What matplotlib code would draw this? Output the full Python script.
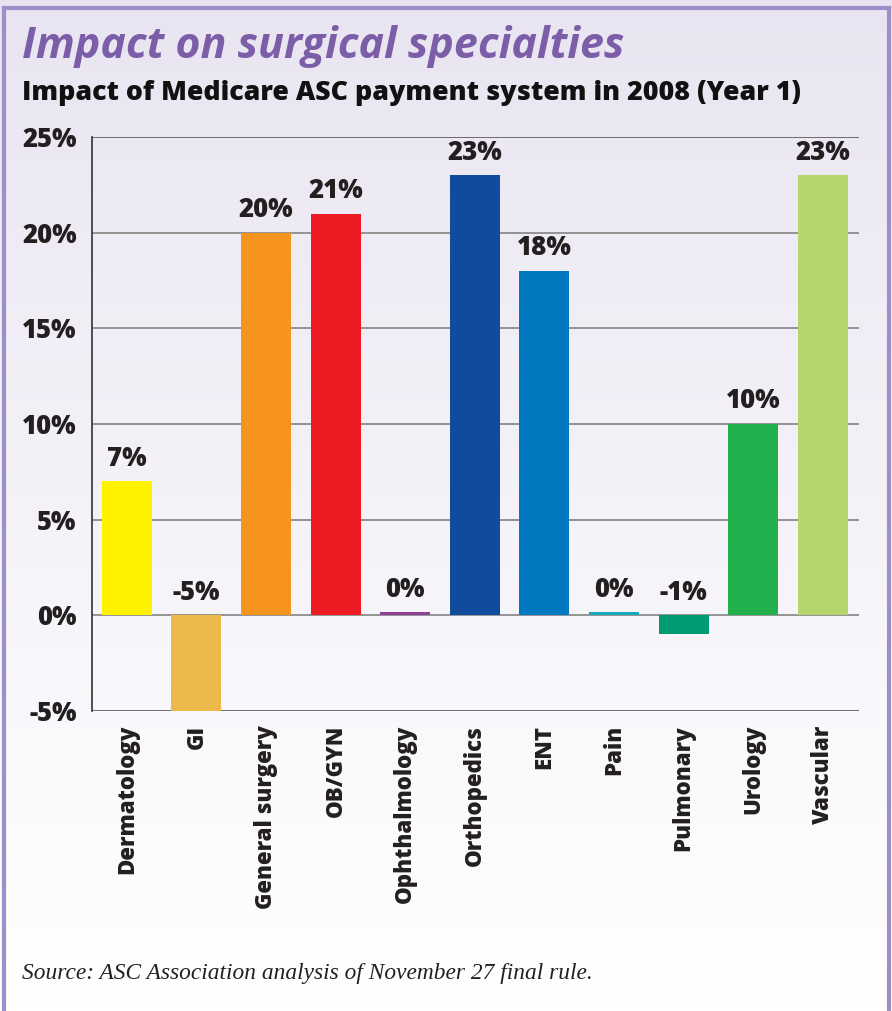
import numpy as np
from matplotlib import pyplot as plt

specialties = ["Dermatology", "GI", "General surgery", "OB/GYN", "Ophthalmology",
               "Orthopedics", "ENT", "Pain", "Pulmonary", "Urology", "Vascular"]
# wartosci (0% rysowane jako cienki pasek)
impact = [7, -5, 20, 21, 0.15, 23, 18, 0.15, -1, 10, 23]
colors = ["#FFF200", "#EDB94A", "#F7941D", "#ED1C24", "#8E3F96", "#0F4C9E",
          "#0079C1", "#1AA6B7", "#009B72", "#22B14C", "#B5D56F"]
yticks = [-5, 0, 5, 10, 15, 20, 25]

FONT = "Open Sans"
WGT = 800
W, H = 892, 1011
fig = plt.figure(figsize=(W / 100, H / 100), dpi=100)

# tlo z gradientem
bg = fig.add_axes([0, 0, 1, 1], zorder=-5)
grad = np.linspace(0, 1, 256).reshape(-1, 1)
top = np.array([0.910, 0.894, 0.945])
bottom = np.array([1.0, 1.0, 1.0])
img = top + (bottom - top) * grad[..., None] ** 0.9
img = img.reshape(256, 1, 3)
bg.imshow(img, aspect="auto", extent=[0, 1, 0, 1], origin="upper")
bg.set_xlim(0, 1)
bg.set_ylim(0, 1)
bg.axis("off")
# ramka
bc = "#9E8FC9"
bg.plot([4 / W, 4 / W], [0, 1 - 8 / H], color=bc, lw=3)
bg.plot([4 / W, 889 / W], [1 - 8 / H, 1 - 8 / H], color=bc, lw=3)
bg.plot([889 / W, 889 / W], [0, 1 - 8 / H], color=bc, lw=3)

ax = fig.add_axes([92 / W, 300 / H, 767 / W, 574 / H])
ax.patch.set_alpha(0)
x = np.arange(len(specialties))
ax.bar(x, impact, width=0.72, color=colors, zorder=3)
ax.set_xlim(-0.5, 10.52)
ax.set_ylim(-5, 25)

for yv in yticks:
    if yv in (-5, 25):
        col, lw = "#555555", 1.2
    else:
        col, lw = "#8C8C8C", 1.3
    ax.axhline(yv, color=col, lw=lw, zorder=2)

for xi, v in zip(x, impact):
    ax.text(xi, max(v, 0) + 0.5, f"{v:.0f}%", ha="center", va="bottom",
            fontsize=18.5, fontweight=WGT, color="#231F20", family=FONT)

ax.set_yticks(yticks)
ax.set_yticklabels([f"{t}%" for t in yticks], fontsize=18.5, fontweight=WGT,
                   color="#231F20", family=FONT)
ax.set_xticks(x)
ax.set_xticklabels(specialties, rotation=90, fontsize=16, fontweight=WGT,
                   color="#231F20", family=FONT, va="top")
ax.tick_params(axis="both", length=0)
ax.tick_params(axis="y", pad=11)
ax.tick_params(axis="x", pad=10)
for s in ["top", "right", "bottom"]:
    ax.spines[s].set_visible(False)
ax.spines["left"].set_color("#333333")
ax.spines["left"].set_linewidth(1.2)

fig.text(22 / W, 1 - 46 / H, "Impact on surgical specialties", fontsize=31,
         fontweight="bold", style="italic", color="#7B5EA7", family=FONT,
         va="center", ha="left")
fig.text(22 / W, 1 - 93 / H, "Impact of Medicare ASC payment system in 2008 (Year 1)",
         fontsize=19.3, fontweight=WGT, color="#111111", family=FONT,
         va="center", ha="left")
fig.text(22 / W, 1 - 973 / H, "Source: ASC Association analysis of November 27 final rule.",
         fontsize=16.8, style="italic", color="#231F20", family="Liberation Serif",
         va="center", ha="left")

fig.savefig("out.png", dpi=100)
